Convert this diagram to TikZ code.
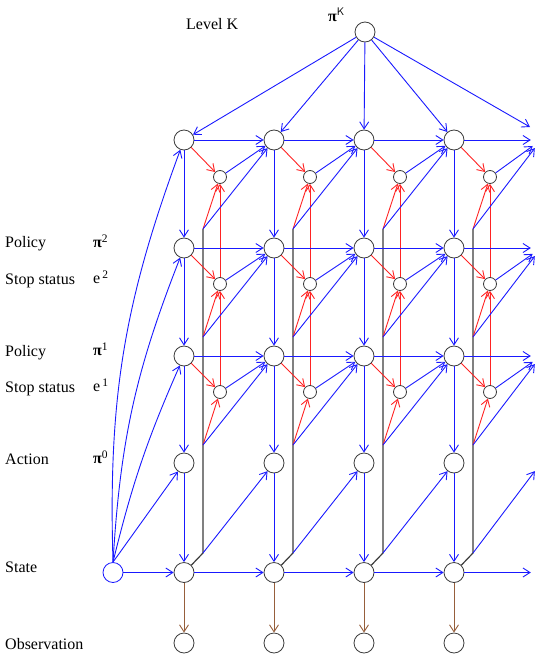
\documentclass[tikz,border=0pt]{standalone}
\usepackage{fontspec}
\setmainfont{Liberation Serif}
\usetikzlibrary{arrows.meta}
\definecolor{myblue}{RGB}{25,25,255}
\definecolor{myred}{RGB}{255,35,35}
\definecolor{mybrown}{RGB}{150,95,60}
\definecolor{myline}{RGB}{60,60,60}
\newcommand\mysup[1]{\raisebox{4.5pt}{\fontsize{11.5}{11.5}\selectfont #1}}
\newcommand\mypi{\textbf{π}}
\begin{document}
\begin{tikzpicture}[x=1pt,y=-1pt,
 big/.style={circle,draw=myline,line width=0.8pt,minimum size=20pt,inner sep=0pt},
 sml/.style={circle,draw=myline,line width=0.8pt,minimum size=13pt,inner sep=0pt},
 ghost/.style={circle,minimum size=20pt,inner sep=0pt},
 tip/.style={-{Straight Barb[length=7pt,width=9pt]}},
 barr/.style={tip,draw=myblue,line width=0.9pt},
 rarr/.style={tip,draw=myred,line width=0.9pt},
 brarr/.style={tip,draw=mybrown,line width=0.9pt},
 bline/.style={draw=myline,line width=1.2pt},
 lbl/.style={font=\fontsize{16}{16}\selectfont,anchor=base west,inner sep=0pt},
]
\useasboundingbox (0,0) rectangle (539,656);

% labels
\node[lbl] (tLevel) at (186,29) {Level K};
\node[lbl] (tPiK) at (328,21) {\mypi\raisebox{6pt}{\fontsize{11}{11}\selectfont\sffamily K}};
\node[lbl] (tPol2) at (5,247) {Policy};
\node[lbl] (tPi2) at (93,247) {\mypi\mysup{2}};
\node[lbl] (tStop2) at (5,284) {Stop status};
\node[lbl] (tE2) at (93,283) {e\hspace{2pt}\mysup{2}};
\node[lbl] (tPol1) at (5,356) {Policy};
\node[lbl] (tPi1) at (93,355) {\mypi\mysup{1}};
\node[lbl] (tStop1) at (5,392) {Stop status};
\node[lbl] (tE1) at (93,391) {e\hspace{2pt}\mysup{1}};
\node[lbl] (tAct) at (5,464) {Action};
\node[lbl] (tPi0) at (93,463) {\mypi\mysup{0}};
\node[lbl] (tState) at (5,572) {State};
\node[lbl] (tObs) at (5,649) {Observation};

% nodes
\node[big] (R) at (365,32) {};
\coordinate (Rend) at (530,127);
\node[big,draw=myblue] (I) at (113,572.5) {};
\foreach \c/\x in {0/184,1/274,2/364,3/454} {
  \node[big] (K\c) at (\x,140) {};
  \node[big] (P\c) at (\x,248) {};
  \node[big] (Q\c) at (\x,356) {};
  \node[big] (A\c) at (\x,463) {};
  \node[big] (S\c) at (\x,572.5) {};
  \node[big] (O\c) at (\x,643) {};
  \node[sml] (eK\c) at (\x+36,177) {};
  \node[sml] (eP\c) at (\x+36,284) {};
  \node[sml] (eQ\c) at (\x+36,392) {};
  \coordinate (jK\c) at (\x+19,229);
  \coordinate (jP\c) at (\x+19,337);
  \coordinate (jQ\c) at (\x+19,445);
  \coordinate (jS\c) at (\x+19,553);
}
\foreach \n/\y in {K/140,P/248,Q/356,A/463,S/572.5}
  \node[ghost] (\n4) at (541,\y) {};

% edges
\foreach \c [count=\d] in {0,...,3} {
  \draw[bline] (S\c.north east) -- (jS\c) -- (jK\c);
  \draw[barr] (K\c) -- (P\c);
  \draw[barr] (P\c) -- (Q\c);
  \draw[barr] (Q\c) -- (A\c);
  \draw[barr] (A\c) -- (S\c);
  \draw[brarr] (S\c) -- (O\c);
  \draw[rarr] (K\c) -- (eK\c);
  \draw[rarr] (P\c) -- (eP\c);
  \draw[rarr] (Q\c) -- (eQ\c);
  \draw[rarr] (eQ\c) -- (eP\c);
  \draw[rarr] (eP\c) -- (eK\c);
  \draw[rarr] (jK\c) -- (eK\c);
  \draw[rarr] (jP\c) -- (eP\c);
  \draw[rarr] (jQ\c) -- (eQ\c);
  \draw[barr] (K\c) -- (K\d);
  \draw[barr] (P\c) -- (P\d);
  \draw[barr] (Q\c) -- (Q\d);
  \draw[barr] (S\c) -- (S\d);
  \draw[barr] (eK\c) -- (K\d);
  \draw[barr] (eP\c) -- (P\d);
  \draw[barr] (eQ\c) -- (Q\d);
  \draw[barr] (jK\c) -- (K\d);
  \draw[barr] (jP\c) -- (P\d);
  \draw[barr] (jQ\c) -- (Q\d);
  \draw[barr] (jS\c) -- (A\d);
  \draw[barr] (R) -- (K\c);
}
\draw[barr] (R) -- (Rend);

% initial state
\draw[barr] (I) -- (S0);
\draw[barr] (I.north) -- (A0);
\draw[barr] (I.north) to[bend left=5] (Q0);
\draw[barr] (I.north) to[bend left=9] (P0);
\draw[barr] (I.north) to[bend left=11] (K0);
\end{tikzpicture}
\end{document}
